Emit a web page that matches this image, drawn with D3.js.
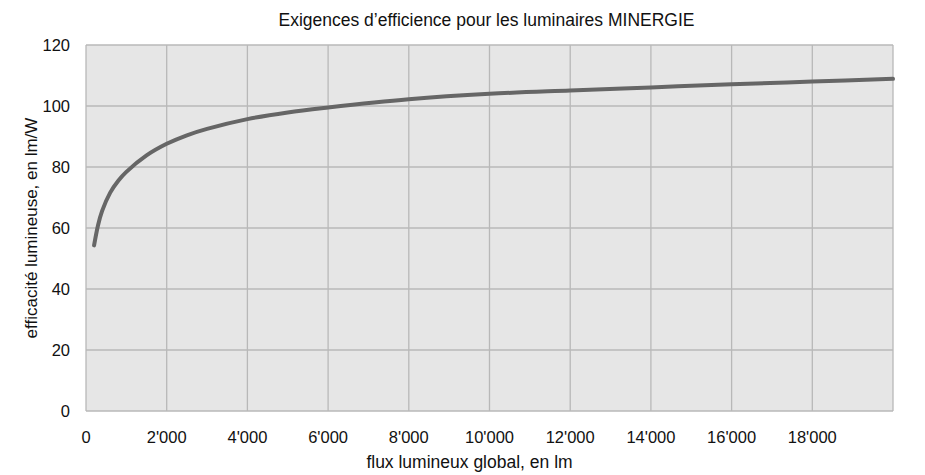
<!DOCTYPE html>
<html><head><meta charset="utf-8">
<script src="https://cdn.jsdelivr.net/npm/d3@7"></script>
<style>body{margin:0;background:#fff}svg{display:block}text{font-family:"Liberation Sans",Arial,sans-serif;fill:#111}</style>
</head><body>
<script>
const flux = [200,300,400,600,800,1000,1500,2000,2500,3000,4000,5000,6000,8000,10000,12000,14000,16000,18000,20000];
const efficacy = [54.3,61,65.6,71.6,75.5,78.4,83.8,87.6,90.4,92.5,95.7,97.9,99.5,102.2,104,105.1,106.1,107.1,108,108.9];
const xTicks = [0,2000,4000,6000,8000,10000,12000,14000,16000,18000];
const yTicks = [0,20,40,60,80,100,120];
const title = "Exigences d’efficience pour les luminaires MINERGIE";
const xTitle = "flux lumineux global, en lm";
const yTitle = "efficacité lumineuse, en lm/W";

const W=925,H=475, m={l:86,r:32,t:45,b:64};
const svg=d3.select("body").append("svg").attr("width",W).attr("height",H);
const x=d3.scaleLinear().domain([0,20000]).range([m.l,W-m.r]);
const y=d3.scaleLinear().domain([0,120]).range([H-m.b,m.t]);
svg.append("rect").attr("x",x(0)).attr("y",y(120)).attr("width",x(20000)-x(0)).attr("height",y(0)-y(120)).attr("fill","#e6e6e6");
const fmt=d=>d3.format(",")(d).replace(/,/g,"'");
svg.append("g").selectAll("line").data(xTicks.concat([20000])).join("line")
  .attr("x1",d=>x(d)).attr("x2",d=>x(d)).attr("y1",y(0)).attr("y2",y(120)).attr("stroke","#b8b8b8").attr("stroke-width",1.3);
svg.append("g").selectAll("line").data(yTicks).join("line")
  .attr("x1",x(0)).attr("x2",x(20000)).attr("y1",d=>y(d)).attr("y2",d=>y(d)).attr("stroke","#b8b8b8").attr("stroke-width",1.3);
svg.append("g").selectAll("text").data(xTicks).join("text")
  .attr("x",d=>x(d)).attr("y",y(0)+32).attr("text-anchor","middle").attr("font-size",16.5).text(fmt);
svg.append("g").selectAll("text").data(yTicks).join("text")
  .attr("x",70).attr("y",d=>y(d)+6).attr("text-anchor","end").attr("font-size",16.5).text(d=>d);
const line=d3.line().x((d,i)=>x(flux[i])).y(d=>y(d)).curve(d3.curveCatmullRom.alpha(0.5));
svg.append("path").datum(efficacy).attr("d",line).attr("fill","none").attr("stroke","#666").attr("stroke-width",4).attr("stroke-linecap","round");
svg.append("text").attr("x",(x(0)+x(20000))/2-3).attr("y",26).attr("text-anchor","middle").attr("font-size",17.5).text(title);
svg.append("text").attr("x",(x(0)+x(20000))/2-20).attr("y",468).attr("text-anchor","middle").attr("font-size",17.5).text(xTitle);
svg.append("text").attr("transform",`translate(37,${(y(0)+y(120))/2}) rotate(-90)`).attr("text-anchor","middle").attr("font-size",17).text(yTitle);
</script>
</body></html>
